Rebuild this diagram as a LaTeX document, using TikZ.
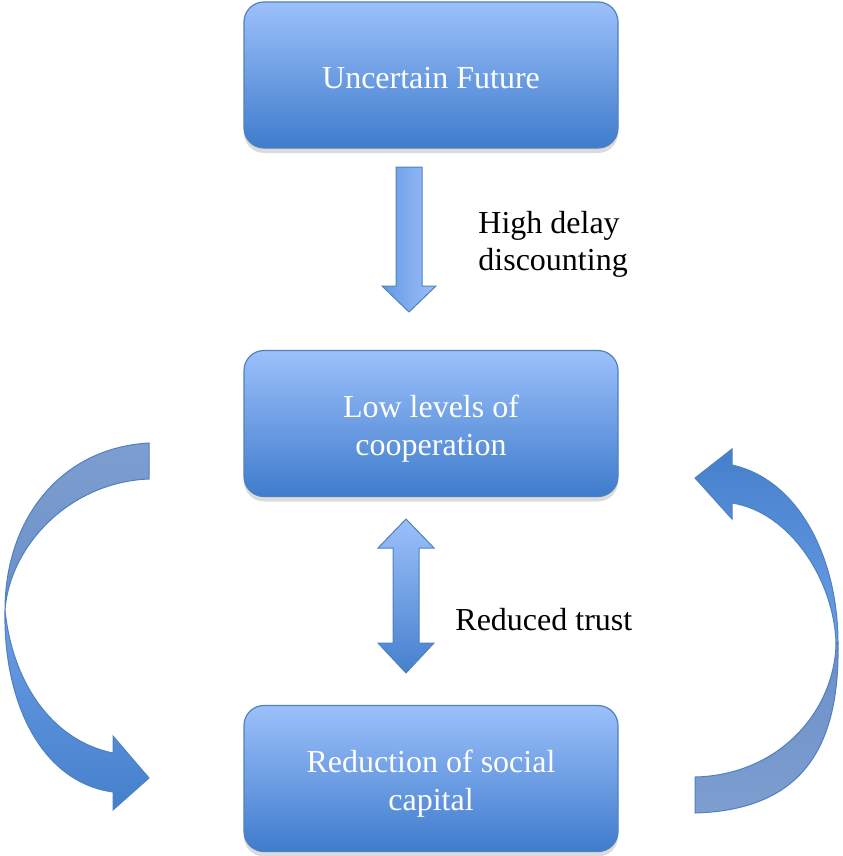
\documentclass[tikz,border=0pt]{standalone}
\usepackage{fontspec}
\setmainfont{Liberation Serif}
\usetikzlibrary{shadows}
\definecolor{boxtop}{HTML}{9CC0FB}
\definecolor{boxbot}{HTML}{3F7CCC}
\definecolor{edge}{HTML}{4F81BD}
\definecolor{frontdark}{HTML}{4580CC}
\definecolor{frontlight}{HTML}{6B9DE6}
\definecolor{backtop}{HTML}{7E9ED0}
\definecolor{backbot}{HTML}{6A8FC8}
\tikzset{
  box/.style={draw=edge, line width=0.6pt, rounded corners=10pt,
    top color=boxtop, bottom color=boxbot,
    minimum width=187pt, minimum height=73pt,
    drop shadow={shadow xshift=0pt, shadow yshift=-2.5pt, opacity=0.2, fill=black!70}},
  boxtext/.style={text=white, align=center, font=\fontsize{16}{18.7}\selectfont, inner sep=0pt},
  lbl/.style={text=black, align=left, anchor=west, font=\fontsize{16}{18.5}\selectfont, inner sep=0pt},
  blockarrow/.style={draw=edge, line width=0.5pt, line join=miter},
  frontpart/.style={draw=edge, line width=0.5pt},
  backpart/.style={draw=edge, line width=0.5pt}
}
\begin{document}
\begin{tikzpicture}[x=0.5pt, y=-0.5pt]
\useasboundingbox (0,0) rectangle (842,856);
% boxes
\node[box] (uf) at (431,75) {};
\node[boxtext] (uft) at (431,78) {Uncertain Future};
\node[box] (low) at (431,423.5) {};
\node[boxtext] (lowt) at (431,428.5) {Low levels of\\cooperation};
\node[box] (red) at (431,778.5) {};
\node[boxtext] (redt) at (431,783.5) {Reduction of social\\capital};
% straight down arrow
\shadedraw[blockarrow, left color=frontlight!85!frontdark, right color=boxtop]
  (396,167) -- (422,167) -- (422,286) -- (436,286) -- (409,312) -- (382,286) -- (396,286) -- cycle;
\node[lbl] (hd) at (478,244) {High delay\\discounting};
% double arrow
\shadedraw[blockarrow, top color=boxtop, bottom color=frontdark]
  (406,519) -- (434,548) -- (419,548) -- (419,643) -- (434,643) -- (406,673)
  -- (378,643) -- (393,643) -- (393,548) -- (378,548) -- cycle;
\node[lbl] (rt) at (455,620) {Reduced trust};
% left curved arrow: back part
\shadedraw[backpart, top color=backtop, bottom color=backbot]
  (149,443) .. controls (60,448) and (5,520) .. (5,610)
  .. controls (10,545) and (70,482) .. (149,479) -- cycle;
% left curved arrow: front part
\shadedraw[frontpart, top color=frontlight, bottom color=frontdark]
  (5,610) .. controls (12,680) and (50,740) .. (113,753)
  -- (113,736) -- (149,778) -- (113,810) -- (113,792)
  .. controls (40,782) and (3,700) .. (5,610) -- cycle;
% right curved arrow: front part
\shadedraw[frontpart, top color=frontdark, bottom color=frontlight]
  (838,643) .. controls (838,560) and (800,480) .. (732,465)
  -- (732,449) -- (695,478) -- (732,519) -- (732,503)
  .. controls (790,512) and (834,580) .. (836,643) -- cycle;
% right curved arrow: back part
\shadedraw[backpart, top color=backbot, bottom color=backtop]
  (838,643) .. controls (840,750) and (800,810) .. (695,813)
  -- (695,777) .. controls (780,775) and (835,710) .. (836,643) -- cycle;
\end{tikzpicture}
\end{document}
